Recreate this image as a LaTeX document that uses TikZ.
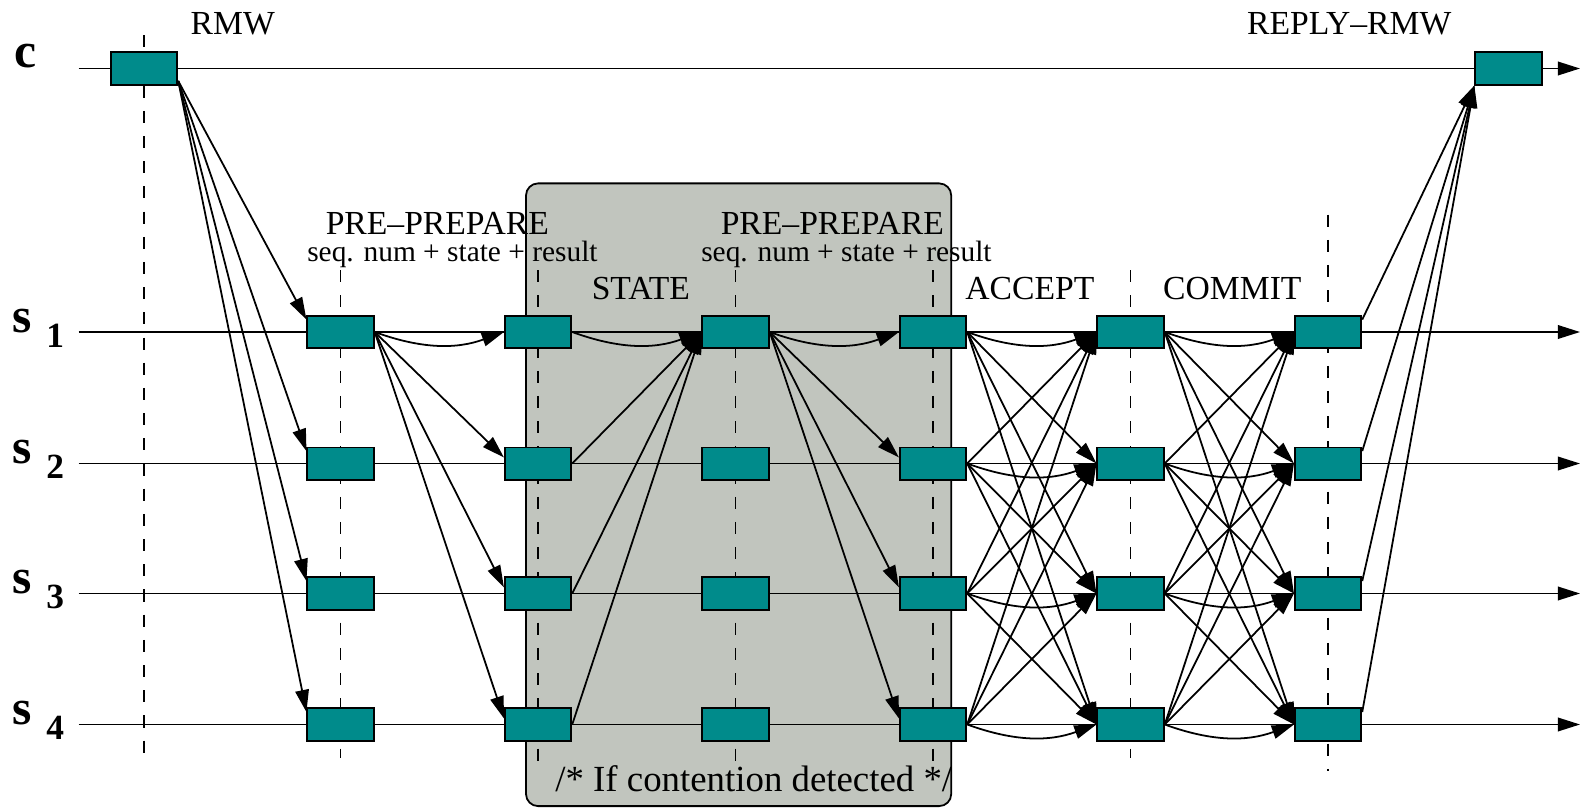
\documentclass[tikz,border=0pt]{standalone}
\usepackage{fontspec}
\setmainfont{Liberation Serif}
\usetikzlibrary{positioning, arrows.meta}
\definecolor{msgteal}{RGB}{0,139,139}
\definecolor{zonegray}{RGB}{193,197,190}

\begin{document}
\begin{tikzpicture}
        \useasboundingbox (0,0) rectangle (15.68,-8.01);
        % Define styles for shapes
        \tikzstyle{msg} = [draw, fill=msgteal, minimum width=0.66cm, minimum height=0.32cm, inner sep=0pt, line width=0.5pt]
        \tikzstyle{arr} = [-{Triangle[length=2.2mm, width=1.35mm]}, line width=0.5pt]
        \tikzstyle{phase} = [dash pattern=on 1.2mm off 1.3mm, line width=0.5pt]
        \tikzstyle{title} = [font=\fontsize{9.5}{11}\selectfont, anchor=base, inner sep=0pt]
        \tikzstyle{sub} = [font=\fontsize{8.3}{10}\selectfont, anchor=base, inner sep=0pt]
        \tikzstyle{proc} = [font=\fontsize{14}{16}\selectfont\bfseries, anchor=base west, inner sep=0pt]

        % Contention region
        \node[draw, fill=zonegray, rounded corners=0.12cm, minimum width=4.22cm, minimum height=6.18cm, line width=0.5pt] (zone) at (7.33,-4.91) {};

        % Phase lines
        \draw[phase] (1.43,-0.35) -- (1.43,-7.52);
        \draw[phase] (3.38,-2.68) -- (3.38,-7.52);
        \draw[phase] (5.34,-2.68) -- (5.34,-7.55);
        \draw[phase] (7.30,-2.68) -- (7.30,-7.55);
        \draw[phase] (9.26,-2.68) -- (9.26,-7.55);
        \draw[phase] (11.22,-2.68) -- (11.22,-7.52);
        \draw[phase] (13.18,-2.13) -- (13.18,-7.65);

        % Time lines of client and servers
        \coordinate (tc-start) at (0.78,-0.68);
        \coordinate (tc-end) at (15.68,-0.68);
        \draw[arr] (tc-start) -- (tc-end);
        \node[proc] (c) at (0.14,-0.675) {c};
        \foreach \i/\y in {1/-3.295,2/-4.60,3/-5.89,4/-7.19} {
            \coordinate (t\i-start) at (0.78,\y);
            \coordinate (t\i-end) at (15.68,\y);
            \draw[arr] (t\i-start) -- (t\i-end);
            \node[proc] (s\i) at (0.12,\y) {s\hspace{4pt}\raisebox{-4.3pt}{\fontsize{10}{12}\selectfont \i}};
        }

        % Draw shapes
        \node[msg] (rmw) at (1.43,-0.68) {};
        \node[msg] (reply) at (14.97,-0.68) {};
        \foreach \k/\x in {1/3.38,2/5.34,3/7.30,4/9.26,5/11.22,6/13.18}
            \foreach \i/\y in {1/-3.295,2/-4.60,3/-5.89,4/-7.19}
                \node[msg] (b\k-\i) at (\x,\y) {};

        % Draw arrows
        % request from the client
        \foreach \i in {1,...,4}
            \draw[arr] (rmw.-20) -- (b1-\i.160);
        % first pre-prepare
        \draw[arr] (b1-1.east) to[bend right=20] (b2-1.west);
        \foreach \i in {2,3,4}
            \draw[arr] (b1-1.east) -- (b2-\i.170);
        % state sent to the primary
        \draw[arr] (b2-1.east) to[bend right=20] (b3-1.west);
        \foreach \i in {2,3,4}
            \draw[arr] (b2-\i.east) -- (b3-1.west);
        % second pre-prepare
        \draw[arr] (b3-1.east) to[bend right=20] (b4-1.west);
        \foreach \i in {2,3,4}
            \draw[arr] (b3-1.east) -- (b4-\i.170);
        % accept and commit, all to all
        \foreach \k/\l in {4/5,5/6}
            \foreach \i in {1,...,4}
                \foreach \j in {1,...,4} {
                    \ifnum\i=\j
                        \draw[arr] (b\k-\i.east) to[bend right=20] (b\l-\j.west);
                    \else
                        \draw[arr] (b\k-\i.east) -- (b\l-\j.west);
                    \fi
                }
        % reply to the client
        \foreach \i in {1,...,4}
            \draw[arr] (b6-\i.20) -- (reply.south west);

        % Labels
        \node[title] (rmw-lbl) at (2.31,-0.34) {RMW};
        \node[title] (reply-lbl) at (13.39,-0.34) {REPLY--RMW};
        \node[title] (pp1-lbl) at (4.34,-2.33) {PRE--PREPARE};
        \node[sub] (pp1-sub) at (4.49,-2.60) {seq. num + state + result};
        \node[title] (pp2-lbl) at (8.26,-2.33) {PRE--PREPARE};
        \node[sub] (pp2-sub) at (8.40,-2.60) {seq. num + state + result};
        \node[title] (state-lbl) at (6.36,-2.97) {STATE};
        \node[title] (accept-lbl) at (10.22,-2.97) {ACCEPT};
        \node[title] (commit-lbl) at (12.23,-2.97) {COMMIT};
        \node[title, font=\fontsize{10.4}{12}\selectfont] (cont-lbl) at (7.48,-7.85) {/* If contention detected */};
\end{tikzpicture}
\end{document}
